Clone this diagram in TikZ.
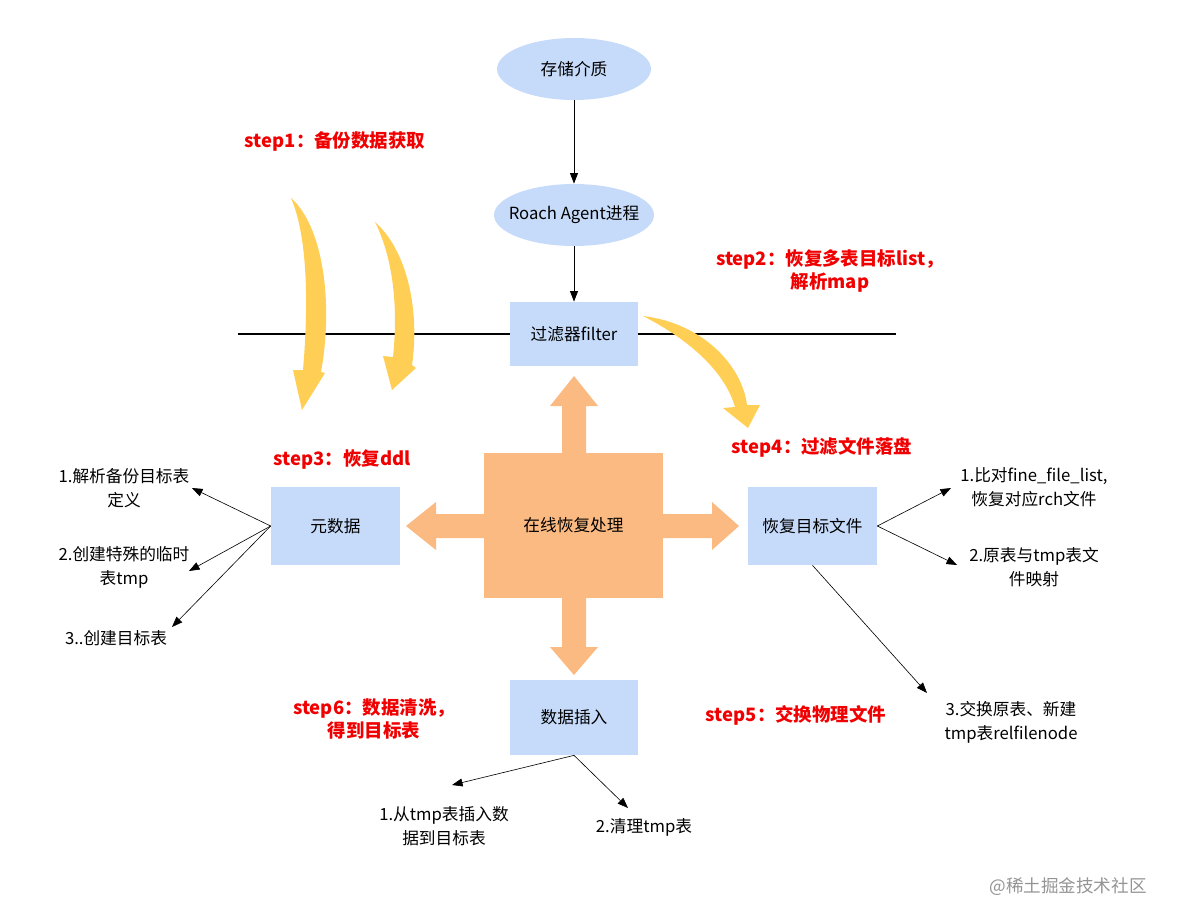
\documentclass[tikz,border=0pt]{standalone}
\usepackage{fontspec}
\setmainfont{Noto Sans CJK SC}
\usepackage{xcolor}
\usetikzlibrary{arrows.meta,shapes.geometric}

\definecolor{boxblue}{RGB}{198,219,250}
\definecolor{crossorange}{RGB}{251,186,130}
\definecolor{bendyellow}{RGB}{255,206,84}
\definecolor{stepred}{RGB}{240,0,0}

\begin{document}
\begin{tikzpicture}[x=0.02cm, y=-0.02cm,
	txt/.style={font=\fontsize{9.5}{13.6}\selectfont, align=center, inner sep=0pt},
	steplabel/.style={font=\fontsize{10.5}{13.6}\selectfont\bfseries, text=stepred, align=center, inner sep=0pt},
	oval/.style={ellipse, fill=boxblue, minimum height=1.24cm, txt},
	bluebox/.style={rectangle, fill=boxblue, minimum width=2.58cm, txt},
	link/.style={-{Triangle[length=6pt,width=4.5pt]}, line width=0.5pt},
	thin link/.style={-{Triangle[length=6pt,width=4.5pt]}, line width=0.35pt}]

	\useasboundingbox (0,0) rectangle (1184,921);

	% Separation line
	\coordinate (lineL) at (238,334);
	\coordinate (lineR) at (896,334);
	\draw[line width=0.6pt] (lineL) -- (lineR);

	% Top chain: storage, agent, filter
	\node[oval, minimum width=3.08cm] (store) at (574,69) {\makebox[0pt]{存储介质}};
	\node[oval, minimum width=3.2cm] (agent) at (574,215) {\makebox[0pt]{Roach Agent进程}};
	\node[bluebox, minimum height=1.28cm] (filter) at (574,334) {过滤器filter};

	\draw[link] (store) -- (agent);
	\draw[link] (agent) -- (filter);

	% Yellow curved arrows
	\fill[bendyellow] (291,198) .. controls (322,225) and (334,300) .. (321,372)
		-- (325,373) -- (302,410) -- (293,370) -- (303,370)
		.. controls (309,300) and (307,235) .. (291,198);
	\fill[bendyellow] (375,222) .. controls (407,250) and (420,310) .. (412,365)
		-- (416,368) -- (392,390) -- (383,356) -- (393,357)
		.. controls (398,310) and (394,260) .. (375,222);
	\fill[bendyellow] (643,316) .. controls (702,323) and (742,365) .. (747,405)
		-- (760,405) -- (748,428) -- (723,408) -- (735,407)
		.. controls (725,372) and (690,340) .. (643,316);

	% Central cross
	\fill[crossorange] (574,376) -- (598,406) -- (586,406) -- (586,647) -- (598,647)
		-- (574,675) -- (550,647) -- (562,647) -- (562,406) -- (550,406) -- cycle;
	\fill[crossorange] (406,526) -- (436,502) -- (436,514) -- (712,514) -- (712,502)
		-- (739,526) -- (712,550) -- (712,538) -- (436,538) -- (436,550) -- cycle;
	\node[rectangle, fill=crossorange, minimum width=3.58cm, minimum height=2.9cm, txt] (core) at (573.5,525.5) {在线恢复处理};

	% Boxes round the cross
	\node[bluebox, minimum height=1.56cm] (meta) at (335.5,526) {元数据};
	\node[bluebox, minimum height=1.56cm] (target) at (812.5,526) {恢复目标文件};
	\node[bluebox, minimum height=1.5cm] (insert) at (574,717.5) {数据插入};

	% Step labels
	\node[steplabel] (s1) at (335,141) {step1：备份数据获取};
	\node[steplabel] (s2) at (830,271) {step2：恢复多表目标list，\\解析map};
	\node[steplabel] (s3) at (342,460) {step3：恢复ddl};
	\node[steplabel] (s4) at (822,447) {step4：过滤文件落盘};
	\node[steplabel] (s5) at (796,715) {step5：交换物理文件};
	\node[steplabel] (s6) at (374,719) {step6：数据清洗，\\得到目标表};

	% Left details
	\node[txt] (m1) at (124,488) {1.解析备份目标表\\定义};
	\node[txt] (m2) at (124,567) {2.创建特殊的临时\\表tmp};
	\node[txt] (m3) at (116,638) {3..创建目标表};
	\coordinate (m1tip) at (192,488);
	\coordinate (m2tip) at (189,571);
	\coordinate (m3tip) at (172,627);
	\draw[thin link] (meta.west) -- (m1tip);
	\draw[thin link] (meta.west) -- (m2tip);
	\draw[thin link] (meta.west) -- (m3tip);

	% Right details
	\node[txt] (t1) at (1034,487) {1.比对fine\_file\_list,\\恢复对应rch文件};
	\node[txt] (t2) at (1034,567) {2.原表与tmp表文\\件映射};
	\node[txt] (t3) at (1011,722) {3.交换原表、新建\\tmp表relfilenode};
	\coordinate (t1tip) at (951,488);
	\coordinate (t2tip) at (957,565);
	\coordinate (t3tip) at (927,693);
	\draw[thin link] (target.east) -- (t1tip);
	\draw[thin link] (target.east) -- (t2tip);
	\draw[thin link] (target.south) -- (t3tip);

	% Bottom details
	\node[txt] (i1) at (444,826) {1.从tmp表插入数\\据到目标表};
	\node[txt] (i2) at (644,827) {2.清理tmp表};
	\coordinate (i1tip) at (452,785);
	\coordinate (i2tip) at (628,808);
	\draw[thin link] (insert.south) -- (i1tip);
	\draw[thin link] (insert.south) -- (i2tip);

	% Watermark
	\node[font=\fontsize{10}{12}\selectfont, text=black!42, inner sep=0pt] (mark) at (1068,887) {@稀土掘金技术社区};
\end{tikzpicture}
\end{document}
